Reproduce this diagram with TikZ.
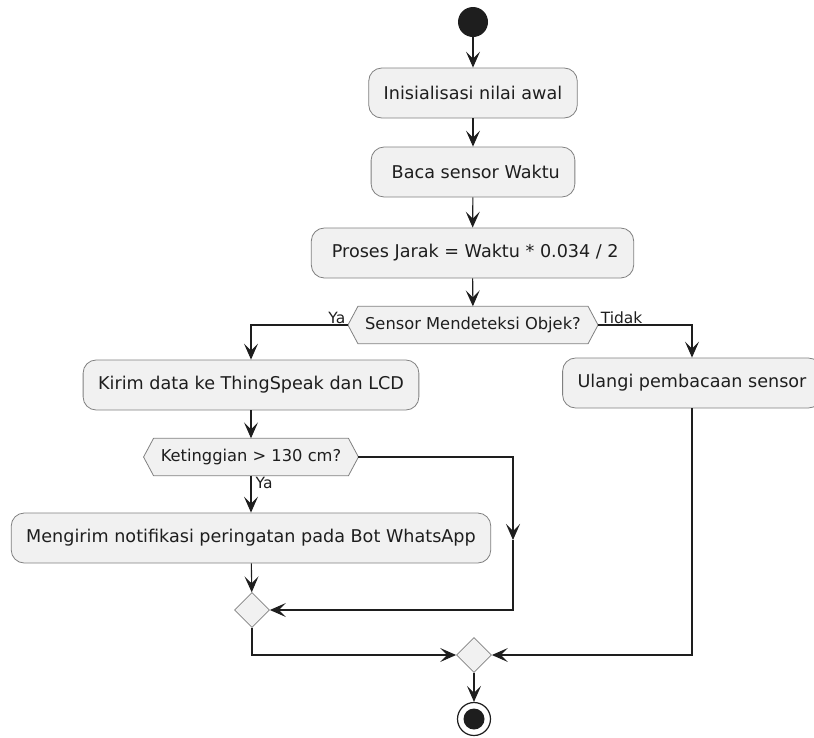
\documentclass[tikz,border=0pt]{standalone}
\usepackage{fontspec}
\setmainfont{DejaVu Sans}
\usetikzlibrary{shapes.geometric,arrows.meta,backgrounds}
\definecolor{boxfill}{HTML}{F1F1F1}
\definecolor{boxline}{HTML}{808080}
\definecolor{ink}{HTML}{1E1E1E}
\begin{document}
\begin{tikzpicture}[x=1pt,y=-1pt,
 act/.style={draw=boxline, fill=boxfill, rounded corners=13pt, line width=0.8pt, minimum height=50pt, inner xsep=15pt, font=\fontsize{17.6}{20}\selectfont, text=ink},
 dectext/.style={inner xsep=17pt, inner ysep=0pt, minimum height=37pt, font=\fontsize{16.3}{19}\selectfont, text=ink},
 merge/.style={diamond, aspect=1, draw=boxline, fill=boxfill, line width=0.8pt, minimum width=35pt, minimum height=35pt, inner sep=0pt},
 flow/.style={draw=ink, line width=1.1pt, -{Stealth[length=16pt,width=14pt,inset=7pt]}},
 lbl/.style={font=\fontsize{15.5}{17}\selectfont, text=ink, inner sep=1.5pt},
 hexs/.style={draw=boxline, fill=boxfill, line width=0.8pt}
]
\useasboundingbox (0,0) rectangle (814,737);
\clip (0,0) rectangle (814,737);

\node[circle, fill=ink, minimum size=30pt, inner sep=0pt] (start) at (473,22) {};
\node[act] (b1) at (473,93) {Inisialisasi nilai awal};
\node[act] (b2) at (473,172) {\ Baca sensor Waktu};
\node[act] (b3) at (472.5,253) {\ Proses Jarak = Waktu * 0.034 / 2};
\node[dectext] (d1) at (473,325) {Sensor Mendeteksi Objek?};
\node[act] (b4) at (251,385) {Kirim data ke ThingSpeak dan LCD};
\node[act] (b6) at (692,383) {Ulangi pembacaan sensor};
\node[dectext] (d2) at (251,457) {Ketinggian > 130 cm?};
\node[act] (b5) at (251,538) {Mengirim notifikasi peringatan pada Bot WhatsApp};
\node[merge] (m1) at (252,610) {};
\node[merge] (m2) at (474,655) {};
\node[circle, draw=ink, line width=1.2pt, fill=white, minimum size=33pt, inner sep=0pt] (end) at (474,719) {};
\fill[ink] (end.center) circle (10.5pt);

\begin{scope}[on background layer]
\draw[hexs] (d1.west) -- ([xshift=10pt]d1.north west) -- ([xshift=-10pt]d1.north east) -- (d1.east) -- ([xshift=-10pt]d1.south east) -- ([xshift=10pt]d1.south west) -- cycle;
\draw[hexs] (d2.west) -- ([xshift=10pt]d2.north west) -- ([xshift=-10pt]d2.north east) -- (d2.east) -- ([xshift=-10pt]d2.south east) -- ([xshift=10pt]d2.south west) -- cycle;
\end{scope}

\coordinate (rx) at (513,540);

\draw[flow] (start) -- (b1);
\draw[flow] (b1) -- (b2);
\draw[flow] (b2) -- (b3);
\draw[flow] (b3) -- (d1);
\draw[flow] (d1.west) -| (b4.north);
\node[lbl, anchor=south east] at ([xshift=-1pt]d1.west) {Ya};
\draw[flow] (d1.east) -| (b6.north);
\node[lbl, anchor=south west] at ([xshift=1pt]d1.east) {Tidak};
\draw[flow] (b4) -- (d2);
\draw[flow] (d2) -- (b5);
\node[lbl, anchor=north west] at ([xshift=3pt]d2.south) {Ya};
\draw[flow] (d2.east) -| (rx);
\draw[flow] (rx) |- (m1.east);
\draw[flow] (b5) -- (m1);
\draw[flow] (m1.south) |- (m2.west);
\draw[flow] (b6.south) |- (m2.east);
\draw[flow] (m2) -- (end);
\end{tikzpicture}
\end{document}
